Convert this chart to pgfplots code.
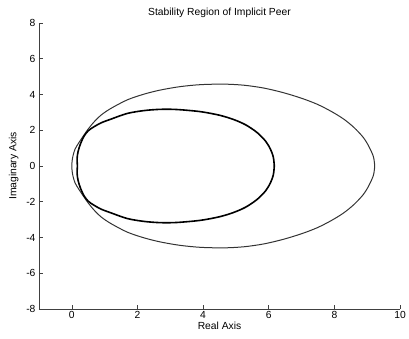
\documentclass[border=0pt]{standalone}
\usepackage{pgfplots}
\pgfplotsset{compat=1.18}
\usepackage{fontspec}
\setmainfont{Liberation Sans}
\begin{document}
\begin{tikzpicture}
\begin{axis}[
  scale only axis,
  width=361pt, height=286pt,
  xmin=-1, xmax=10, ymin=-8, ymax=8,
  xtick={0,2,4,6,8,10},
  ytick={-8,-6,-4,-2,0,2,4,6,8},
  axis x line*=bottom, axis y line*=left,
  axis line style={-, black!75, line width=0.6pt},
  tick style={black!75, line width=0.6pt},
  tick align=inside,
  major tick length=3.5pt,
  /pgf/number format/assume math mode=true,
  tick label style={font=\fontsize{10.3}{12}\selectfont},
  label style={font=\fontsize{10.3}{12}\selectfont},
  title style={font=\fontsize{10.3}{12}\selectfont, yshift=-4pt},
  title={Stability Region of Implicit Peer},
  xlabel={Real Axis}, ylabel={Imaginary Axis},
  xticklabel style={yshift=1pt},
  xlabel style={yshift=4pt},
  ylabel style={yshift=1pt},
]
% outer region boundary
\addplot[black!80, line width=1.0pt, smooth] coordinates {
(9.23,0) (9.19,0.52) (9.05,1.1) (8.88,1.6) (8.6,2.15) (8.28,2.63) (7.9,3.06) (7.47,3.46) (7.0,3.79) (6.45,4.1) (5.85,4.36) (5.24,4.52) (4.62,4.58) (3.92,4.55) (3.3,4.44) (2.7,4.25) (2.2,4.02) (1.69,3.7) (1.19,3.22) (0.9,2.86) (0.68,2.47) (0.5,2.07) (0.37,1.73) (0.22,1.32) (0.1,0.95) (0.04,0.6) (0.01,0.3) (0.0,0)
(0.01,-0.3) (0.04,-0.6) (0.1,-0.95) (0.22,-1.32) (0.37,-1.73) (0.5,-2.07) (0.68,-2.47) (0.9,-2.86) (1.19,-3.22) (1.69,-3.7) (2.2,-4.02) (2.7,-4.25) (3.3,-4.44) (3.92,-4.55) (4.62,-4.58) (5.24,-4.52) (5.85,-4.36) (6.45,-4.1) (7.0,-3.79) (7.47,-3.46) (7.9,-3.06) (8.28,-2.63) (8.6,-2.15) (8.88,-1.6) (9.05,-1.1) (9.19,-0.52) (9.23,0)
};
% inner region boundary
\addplot[black, line width=1.6pt, smooth] coordinates {
(6.17,0) (6.14,0.5) (6.05,0.95) (5.9,1.4) (5.64,1.88) (5.3,2.3) (4.93,2.6) (4.5,2.84) (3.92,3.04) (3.2,3.16) (2.7,3.17) (2.2,3.1) (1.69,2.94) (1.19,2.62) (0.9,2.42) (0.68,2.2) (0.5,1.97) (0.37,1.66) (0.26,1.22) (0.19,0.8) (0.16,0.4) (0.17,0)
(0.16,-0.4) (0.19,-0.8) (0.26,-1.22) (0.37,-1.66) (0.5,-1.97) (0.68,-2.2) (0.9,-2.42) (1.19,-2.62) (1.69,-2.94) (2.2,-3.1) (2.7,-3.17) (3.2,-3.16) (3.92,-3.04) (4.5,-2.84) (4.93,-2.6) (5.3,-2.3) (5.64,-1.88) (5.9,-1.4) (6.05,-0.95) (6.14,-0.5) (6.17,0)
};
\end{axis}
\pgfresetboundingbox
\path[use as bounding box] ([xshift=-39pt,yshift=-30pt]current axis.south west) rectangle ([xshift=9pt,yshift=23pt]current axis.north east);
\end{tikzpicture}
\end{document}
